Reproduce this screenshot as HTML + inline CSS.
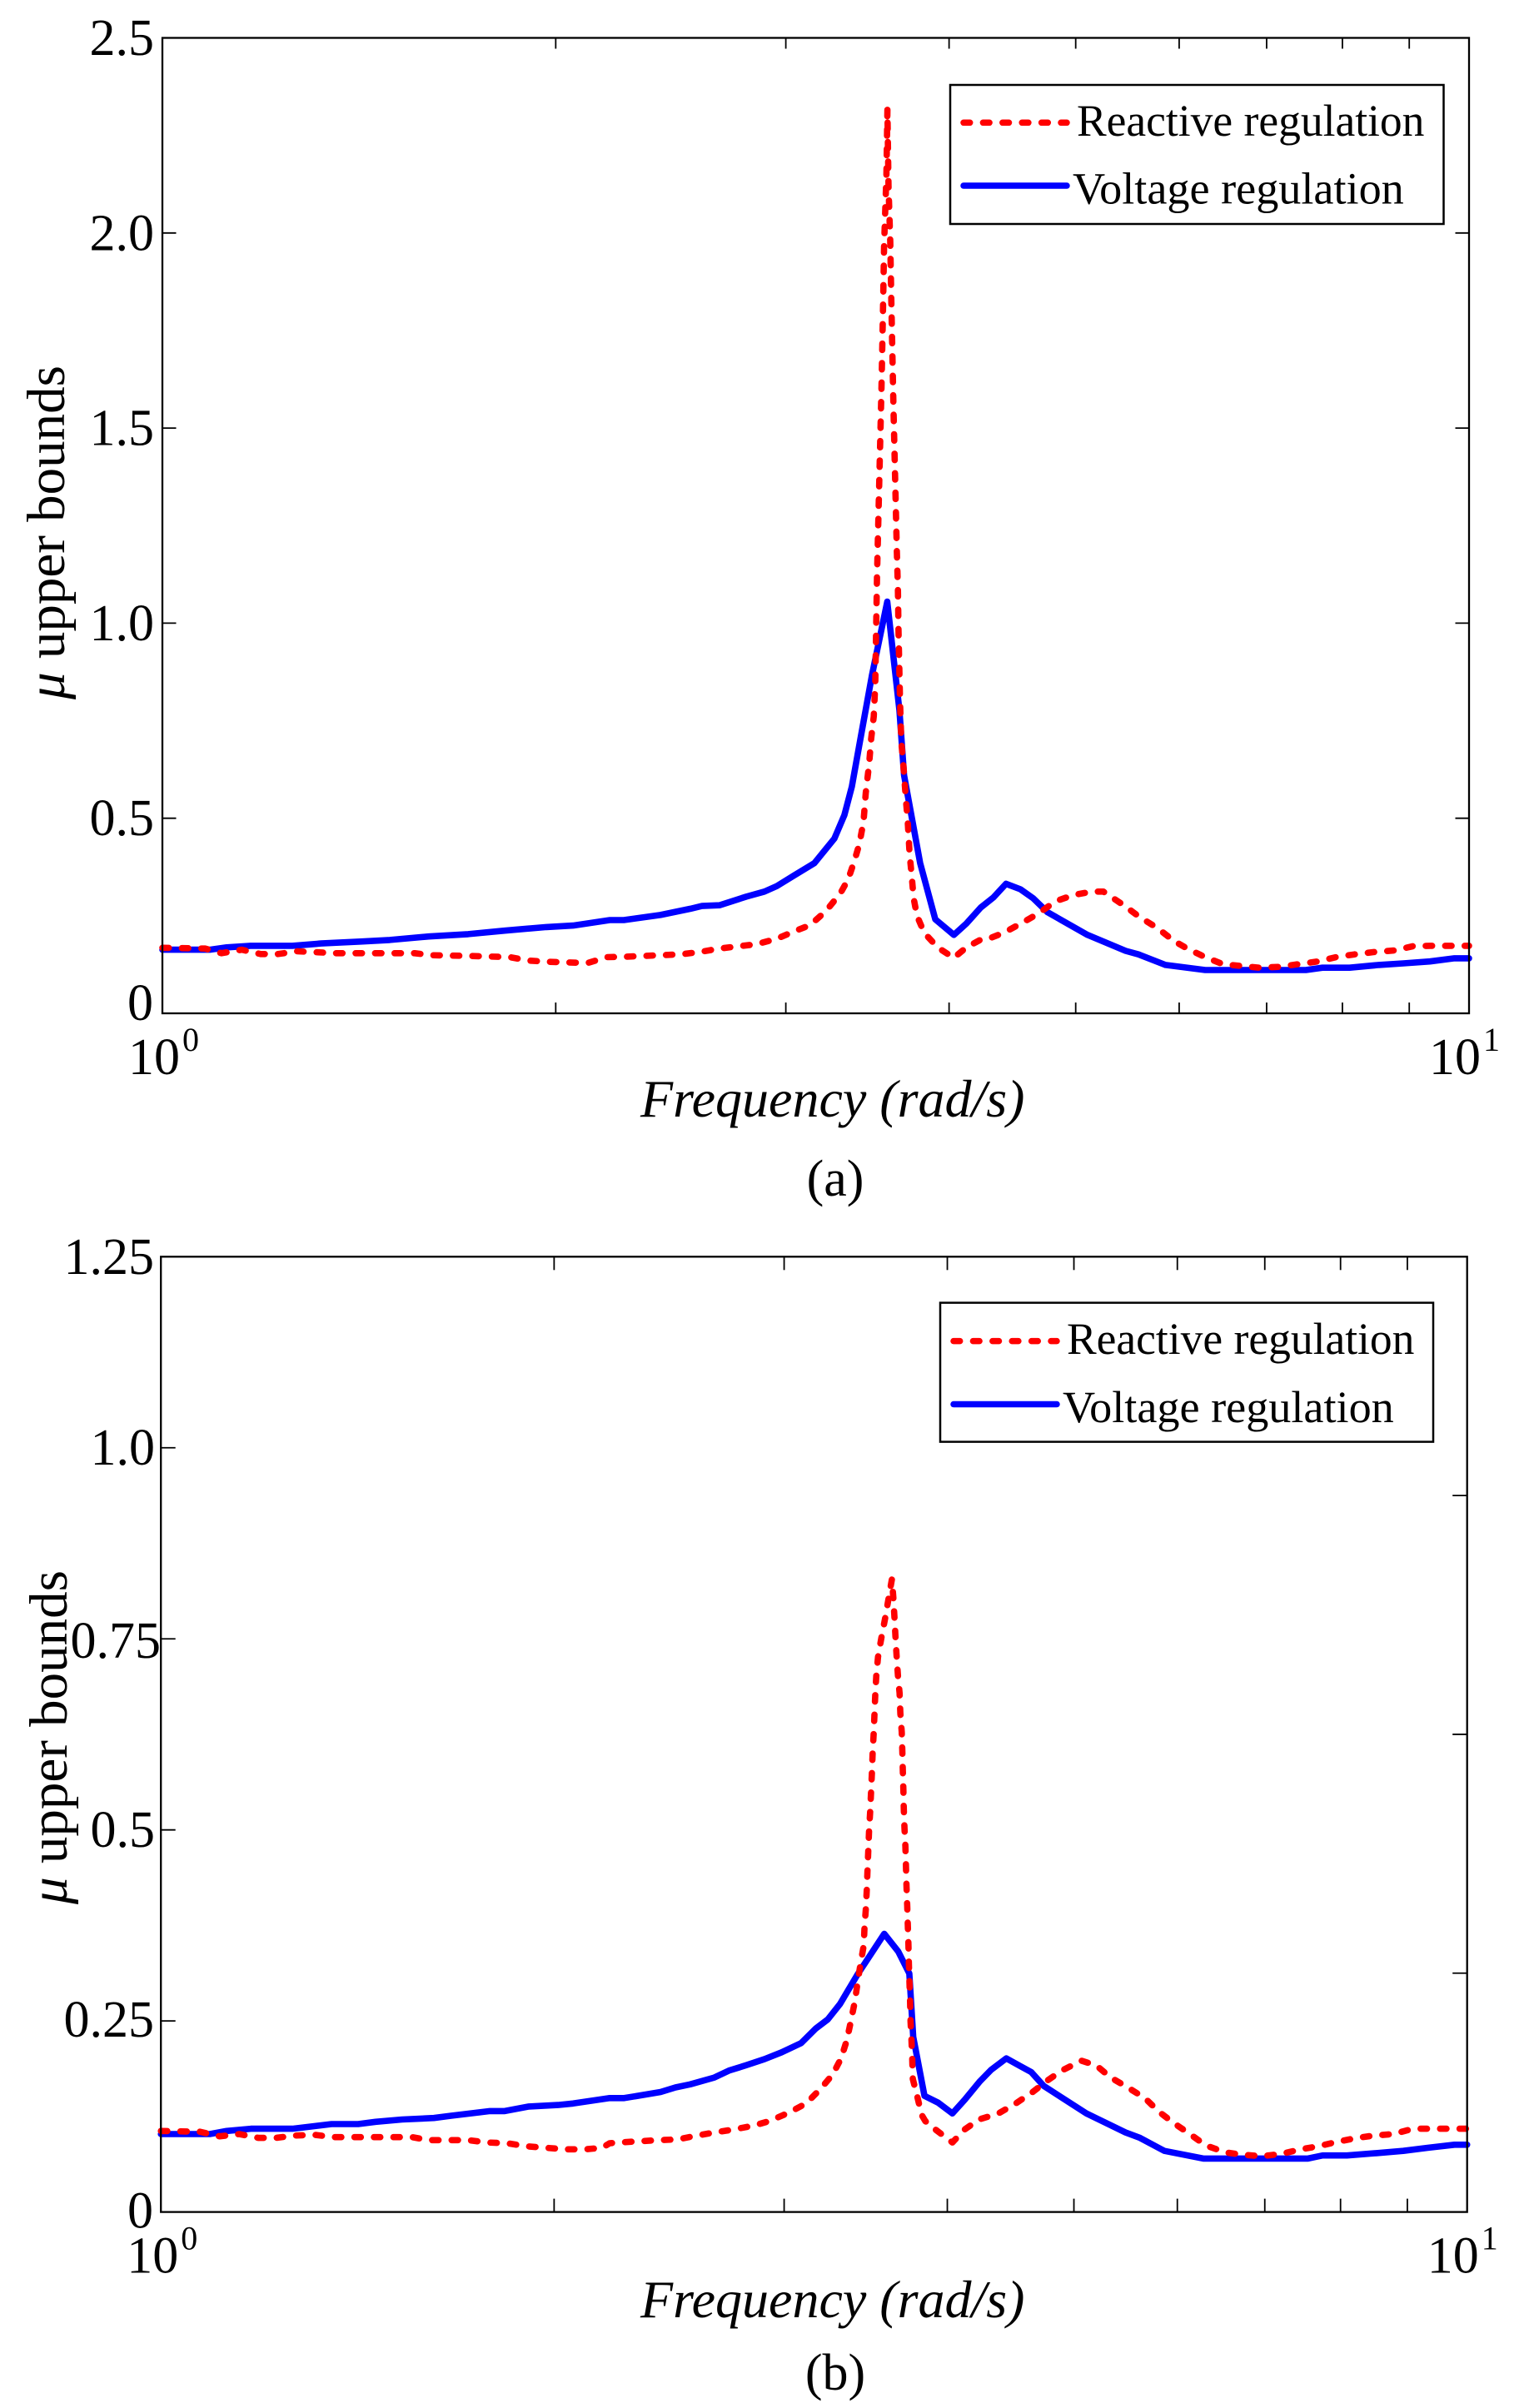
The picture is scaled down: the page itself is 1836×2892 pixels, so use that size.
<!DOCTYPE html>
<html lang="en">
<head>
<meta charset="utf-8">
<title>mu upper bounds vs frequency</title>
<style>
html,body{margin:0;padding:0;background:#fff;}
svg{display:block;}
text{font-family:"Liberation Serif","DejaVu Serif",serif;fill:#000;}
</style>
</head>
<body>
<svg id="chart" xmlns="http://www.w3.org/2000/svg" width="1836" height="2892" viewBox="0 0 1836 2892">
  <rect x="0" y="0" width="1836" height="2892" fill="#fff"/>
  <g id="panel-a"></g>
  <g id="panel-b"></g>

  <g>
    <rect x="1141" y="102" width="592.5" height="167" fill="#fff" stroke="#000" stroke-width="2.5"/>
    <line x1="1157" y1="147.3" x2="1281" y2="147.3" stroke="#ff0000" stroke-width="7.5" stroke-linecap="round" stroke-dasharray="7.7 15.7"/>
    <text x="1293" y="163" font-size="53.5">Reactive regulation</text>
    <line x1="1157" y1="223" x2="1281" y2="223" stroke="#0000ff" stroke-width="7.5" stroke-linecap="round"/>
    <text x="1288" y="244.6" font-size="54.2">Voltage regulation</text>
  </g>
  <g>
    <rect x="1129" y="1564.6" width="592" height="167" fill="#fff" stroke="#000" stroke-width="2.5"/>
    <line x1="1145" y1="1610.6" x2="1269" y2="1610.6" stroke="#ff0000" stroke-width="7.5" stroke-linecap="round" stroke-dasharray="7.7 15.7"/>
    <text x="1281" y="1626" font-size="53.5">Reactive regulation</text>
    <line x1="1145" y1="1686.5" x2="1269" y2="1686.5" stroke="#0000ff" stroke-width="7.5" stroke-linecap="round"/>
    <text x="1276" y="1708" font-size="54.2">Voltage regulation</text>
  </g>

  <text transform="translate(77 840) rotate(-90)" font-size="65"><tspan font-style="italic">μ</tspan> upper bounds</text>
  <text x="769" y="1341" font-size="64" font-style="italic">Frequency (rad/s)</text>
  <text x="1003" y="1436" font-size="62" text-anchor="middle">(a)</text>

  <text transform="translate(80 2287) rotate(-90)" font-size="65"><tspan font-style="italic">μ</tspan> upper bounds</text>
  <text x="769" y="2783" font-size="64" font-style="italic">Frequency (rad/s)</text>
  <text x="1003" y="2870" font-size="62" text-anchor="middle">(b)</text>
</svg>

<script>
// ---------- Panel (a) data ----------
const voltageFreqA = [1.000,1.087,1.120,1.168,1.257,1.323,1.418,1.493,1.599,1.714,1.828,1.967,2.062,2.200,2.255,2.405,2.536,2.588,2.669,2.798,2.889,2.953,3.046,3.155,3.268,3.326,3.370,3.425,3.492,3.587,3.665,3.695,3.801,3.904,4.034,4.124,4.229,4.325,4.422,4.536,4.639,4.758,5.105,5.460,5.584,5.857,6.282,7.501,7.724,8.102,8.531,8.906,9.333,9.746,10.000];
const voltageMuA = [0.163,0.163,0.169,0.173,0.173,0.179,0.184,0.188,0.197,0.203,0.212,0.221,0.225,0.239,0.239,0.252,0.268,0.275,0.277,0.299,0.312,0.326,0.354,0.385,0.448,0.508,0.581,0.712,0.867,1.055,0.777,0.610,0.385,0.241,0.201,0.230,0.271,0.297,0.332,0.318,0.295,0.259,0.201,0.160,0.151,0.124,0.111,0.111,0.117,0.117,0.124,0.128,0.133,0.141,0.141];
const reactiveFreqA = [1.000,1.078,1.110,1.150,1.189,1.226,1.268,1.359,1.560,1.606,1.721,1.844,1.907,1.976,2.115,2.190,2.255,2.405,2.491,2.577,2.669,2.761,2.847,2.952,3.044,3.131,3.220,3.303,3.349,3.387,3.415,3.440,3.454,3.474,3.487,3.503,3.512,3.517,3.523,3.551,3.561,3.567,3.582,3.588,3.595,3.606,3.613,3.627,3.648,3.655,3.659,3.669,3.677,3.690,3.707,3.719,3.731,3.747,3.758,3.780,3.829,3.921,4.033,4.124,4.241,4.301,4.409,4.561,4.678,4.825,4.977,5.148,5.250,5.431,5.601,5.777,5.941,6.093,6.282,6.481,6.911,7.153,7.402,7.661,7.932,8.173,8.460,8.753,9.059,9.336,10.000];
const reactiveMuA = [0.168,0.166,0.154,0.163,0.152,0.152,0.159,0.154,0.154,0.149,0.147,0.144,0.135,0.132,0.129,0.144,0.145,0.149,0.151,0.157,0.166,0.172,0.177,0.191,0.210,0.226,0.262,0.308,0.344,0.393,0.434,0.491,0.565,0.638,0.704,0.761,0.843,0.965,1.120,1.606,1.816,1.968,2.149,2.316,2.121,1.978,1.825,1.549,1.185,1.088,0.982,0.794,0.696,0.638,0.548,0.491,0.410,0.344,0.295,0.250,0.206,0.169,0.142,0.169,0.191,0.193,0.207,0.234,0.255,0.287,0.303,0.312,0.312,0.279,0.246,0.218,0.186,0.165,0.144,0.126,0.117,0.119,0.126,0.133,0.145,0.151,0.157,0.161,0.172,0.173,0.173];
const yTickValuesA = [0,0.5,1.0,1.5,2.0,2.5];
const yTickLabelsA = ["0","0.5","1.0","1.5","2.0","2.5"];

// ---------- Panel (b) data ----------
const voltageFreqB = [1.000,1.090,1.123,1.172,1.261,1.351,1.416,1.460,1.530,1.618,1.668,1.786,1.833,1.913,2.014,2.068,2.206,2.263,2.413,2.477,2.542,2.653,2.722,2.805,2.898,2.987,3.091,3.172,3.240,3.310,3.415,3.579,3.668,3.741,3.767,3.842,3.936,4.036,4.125,4.237,4.321,4.438,4.548,4.638,4.741,5.111,5.476,5.618,5.864,6.281,7.554,7.752,8.092,8.523,8.935,9.328,9.779,10.000];
const voltageMuB = [0.102,0.102,0.106,0.109,0.109,0.115,0.115,0.118,0.121,0.123,0.126,0.132,0.132,0.138,0.140,0.142,0.149,0.149,0.157,0.163,0.167,0.176,0.185,0.192,0.200,0.209,0.221,0.240,0.252,0.272,0.311,0.364,0.341,0.312,0.229,0.152,0.143,0.129,0.147,0.171,0.186,0.201,0.191,0.183,0.165,0.129,0.104,0.097,0.080,0.070,0.070,0.074,0.074,0.077,0.080,0.084,0.088,0.088];
const reactiveFreqB = [1.000,1.071,1.109,1.148,1.188,1.224,1.266,1.311,1.357,1.557,1.604,1.718,1.778,1.841,1.905,1.972,2.040,2.112,2.177,2.206,2.243,2.403,2.487,2.573,2.653,2.745,2.842,2.923,3.025,3.118,3.199,3.268,3.317,3.351,3.374,3.398,3.415,3.432,3.452,3.457,3.466,3.471,3.475,3.480,3.485,3.492,3.497,3.502,3.507,3.513,3.518,3.523,3.529,3.540,3.561,3.584,3.605,3.628,3.637,3.644,3.651,3.658,3.667,3.677,3.682,3.691,3.695,3.698,3.702,3.705,3.709,3.715,3.719,3.722,3.727,3.731,3.735,3.738,3.742,3.746,3.749,3.755,3.760,3.764,3.796,3.823,3.848,3.917,4.036,4.124,4.230,4.378,4.512,4.649,4.772,4.894,5.067,5.199,5.336,5.497,5.666,5.811,5.966,6.146,6.310,6.530,6.726,6.960,7.207,7.460,7.689,7.958,8.235,8.488,8.782,9.090,9.366,9.821,10.000];
const reactiveMuB = [0.106,0.105,0.099,0.102,0.097,0.097,0.100,0.101,0.098,0.098,0.094,0.094,0.091,0.090,0.086,0.084,0.082,0.082,0.084,0.090,0.091,0.094,0.095,0.100,0.104,0.108,0.113,0.119,0.130,0.142,0.161,0.180,0.201,0.225,0.249,0.275,0.300,0.324,0.349,0.373,0.400,0.424,0.448,0.475,0.500,0.526,0.551,0.575,0.602,0.626,0.653,0.677,0.701,0.726,0.751,0.776,0.801,0.828,0.804,0.779,0.752,0.728,0.701,0.679,0.653,0.628,0.603,0.577,0.551,0.526,0.502,0.478,0.451,0.427,0.400,0.375,0.351,0.324,0.300,0.276,0.249,0.225,0.200,0.174,0.149,0.127,0.119,0.108,0.091,0.108,0.121,0.129,0.142,0.157,0.172,0.185,0.198,0.192,0.176,0.163,0.149,0.131,0.116,0.101,0.087,0.078,0.075,0.073,0.076,0.082,0.086,0.092,0.097,0.100,0.102,0.109,0.109,0.109,0.109];
const yTickValuesB = [0,0.25,0.5,0.75,1.0,1.25];
const yTickLabelsB = ["0","0.25","0.5","0.75","1.0","1.25"];
const rightTickValuesB = [0.3125,0.625,0.9375];

// ---------- Shared x axis data ----------
const xMinorTicks = [2,3,4,5,6,7,8,9];
const xDecades = [1,10];
const xDecadeExponents = ["0","1"];

const NS = "http://www.w3.org/2000/svg";

function make(parent, tag, attrs) {
  const el = document.createElementNS(NS, tag);
  for (const k in attrs) el.setAttribute(k, attrs[k]);
  parent.appendChild(el);
  return el;
}

function drawPanel(root, g) {
  const xScale = f => g.left + Math.log10(f) * (g.right - g.left);
  const yScale = v => g.bottom - (v / g.yMax) * (g.bottom - g.top);

  // series: voltage first, reactive on top
  const voltagePath = make(root, "polyline", {
    points: g.voltageFreq.map((f, i) => xScale(f).toFixed(1) + "," + yScale(g.voltageMu[i]).toFixed(1)).join(" "),
    fill: "none", stroke: "#0000ff", "stroke-width": 7.6, "stroke-linejoin": "round", "stroke-linecap": "round"
  });
  
  

  const reactivePath = make(root, "polyline", {
    points: g.reactiveFreq.map((f, i) => xScale(f).toFixed(1) + "," + yScale(g.reactiveMu[i]).toFixed(1)).join(" "),
    fill: "none", stroke: "#ff0000", "stroke-width": 7.6, "stroke-linejoin": "round", "stroke-linecap": "round",
    "stroke-dasharray": "7.7 15.7"
  });
  
  

  // frame
  const frame = make(root, "rect", {
    x: g.left, y: g.top, width: g.right - g.left, height: g.bottom - g.top,
    fill: "none", stroke: "#000", "stroke-width": 2.3
  });
  
  

  // x minor ticks, top and bottom
  xMinorTicks.forEach(f => {
    const x = xScale(f);
    const bottomTick = make(root, "line", { x1: x, x2: x, y1: g.bottom, y2: g.bottom - g.xTickLen, stroke: "#000", "stroke-width": 1.8 });
    
    
    const topTick = make(root, "line", { x1: x, x2: x, y1: g.top, y2: g.top + g.xTickLen, stroke: "#000", "stroke-width": 1.8 });
    
    
  });

  // x decade labels
  xDecades.forEach((f, i) => {
    const start = xScale(f) + (i === 0 ? -41 : -48);
    const label = make(root, "text", { x: start, y: g.xLabelBase, "font-size": 62 });
    label.textContent = "10";
    
    
    const sup = make(root, "text", { x: start + 65, y: g.xLabelBase - 28, "font-size": 40 });
    sup.textContent = xDecadeExponents[i];
    
    
  });

  // y ticks and labels
  g.yTicks.forEach((v, i) => {
    const y = yScale(v);
    if (v > 0 && v < g.yMax) {
      const leftTick = make(root, "line", { x1: g.left, x2: g.left + g.yTickLen, y1: y, y2: y, stroke: "#000", "stroke-width": 1.8 });
      
      
    }
    const nudge = g.labelNudge[g.yLabels[i]] || [0, 0];
    const label = make(root, "text", { x: 185 + nudge[0], y: y + 20.5 + nudge[1], "font-size": 62, "text-anchor": "end" });
    label.textContent = g.yLabels[i];
    
    
  });

  // right ticks
  g.rightTicks.forEach(v => {
    const y = yScale(v);
    const rightTick = make(root, "line", { x1: g.right, x2: g.right - g.yTickLen, y1: y, y2: y, stroke: "#000", "stroke-width": 1.8 });
    
    
  });
}

drawPanel(document.getElementById("panel-a"), {
  left: 195, right: 1764, top: 45.5, bottom: 1217, yMax: 2.5,
  xTickLen: 13, yTickLen: 16.5, xLabelBase: 1290,
  voltageFreq: voltageFreqA, voltageMu: voltageMuA,
  reactiveFreq: reactiveFreqA, reactiveMu: reactiveMuA,
  yTicks: yTickValuesA, yLabels: yTickLabelsA, rightTicks: yTickValuesA.slice(1, 5),
  labelNudge: { "0": [-1, -12.5] }
});

drawPanel(document.getElementById("panel-b"), {
  left: 193.2, right: 1761.7, top: 1509.3, bottom: 2656.6, yMax: 1.25,
  xTickLen: 16, yTickLen: 17.5, xLabelBase: 2729.5,
  voltageFreq: voltageFreqB, voltageMu: voltageMuB,
  reactiveFreq: reactiveFreqB, reactiveMu: reactiveMuB,
  yTicks: yTickValuesB, yLabels: yTickLabelsB, rightTicks: rightTickValuesB,
  labelNudge: { "0": [-1, -1.5], "0.75": [8, 2.5], "1.0": [1, -0.5], "0.5": [1, 0], "0.25": [0, -1.8] }
});
</script>
</body>
</html>
